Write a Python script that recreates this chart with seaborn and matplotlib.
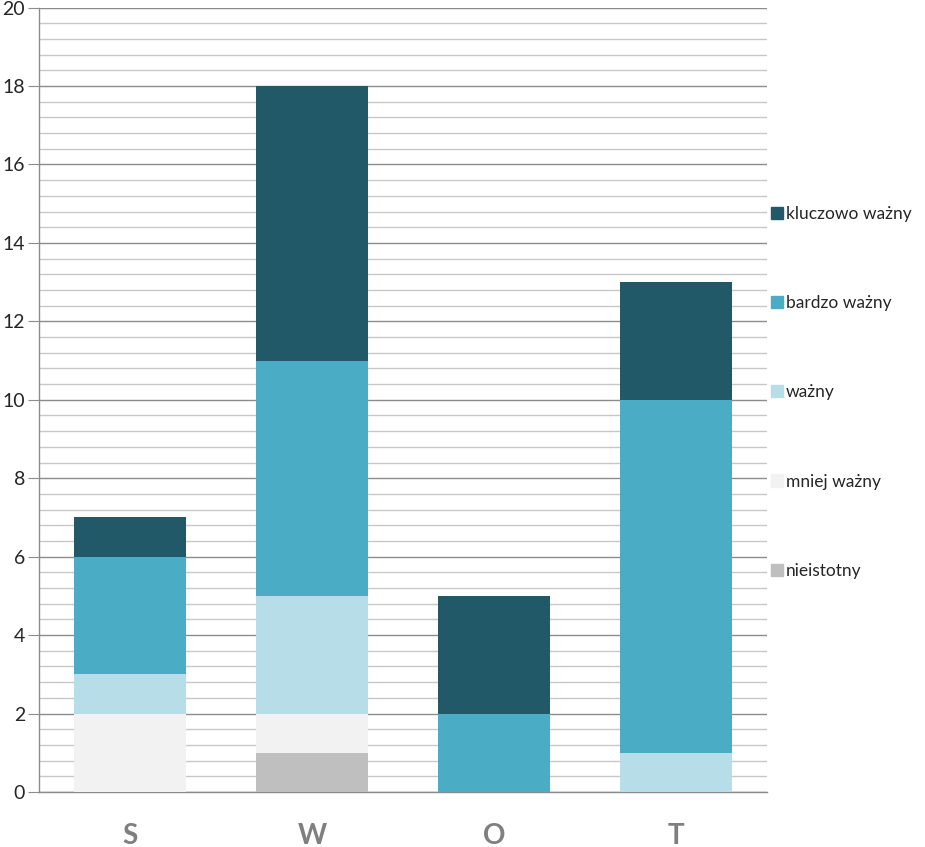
import numpy as np
import matplotlib
matplotlib.use("Agg")
import matplotlib.pyplot as plt
import seaborn as sns
from matplotlib.ticker import MultipleLocator

# categories and stacked series (bottom to top)
categories = ["S", "W", "O", "T"]
series_names = ["nieistotny", "mniej ważny", "ważny", "bardzo ważny", "kluczowo ważny"]
nieistotny = [0, 1, 0, 0]
mniej_wazny = [2, 1, 0, 0]
wazny = [1, 3, 0, 1]
bardzo_wazny = [3, 6, 2, 9]
kluczowo_wazny = [1, 7, 3, 3]
colors = ["#BFBFBF", "#F2F2F2", "#B7DEE8", "#4BACC6", "#215968"]

sns.set_style("white")
plt.rcParams["font.family"] = ["Lato", "DejaVu Sans"]

fig = plt.figure(figsize=(9.25, 8.47), dpi=100)
ax = fig.add_axes([0.0422, 0.065, 0.787, 0.926])

bottom = np.zeros(len(categories))
handles = []
for name, vals, col in zip(series_names,
                           [nieistotny, mniej_wazny, wazny, bardzo_wazny, kluczowo_wazny],
                           colors):
    sns.barplot(x=categories, y=vals, bottom=bottom, color=col, width=0.62,
                saturation=1, ax=ax, zorder=3, linewidth=0)
    handles.append(plt.Rectangle((0, 0), 1, 1, color=col, label=name))
    bottom = bottom + np.array(vals)

ax.set_ylim(0, 20)
ax.set_xlim(-0.5, 3.5)
ax.yaxis.set_major_locator(MultipleLocator(2))
ax.yaxis.set_minor_locator(MultipleLocator(0.4))
ax.grid(which="minor", axis="y", color="#C8C8C8", linewidth=1, zorder=0)
ax.grid(which="major", axis="y", color="#8C8C8C", linewidth=1, zorder=0)
ax.set_axisbelow(True)

for s in ["top", "right"]:
    ax.spines[s].set_visible(False)
for s in ["left", "bottom"]:
    ax.spines[s].set_color("#8C8C8C")
    ax.spines[s].set_linewidth(1)

ax.tick_params(axis="y", which="major", length=8, color="#8C8C8C", labelsize=14,
               labelcolor="#262626", left=True, pad=2)
ax.tick_params(axis="y", which="minor", length=0)
ax.tick_params(axis="x", length=0, labelsize=20, labelcolor="#7F7F7F", pad=22)
for lab in ax.get_xticklabels():
    lab.set_fontweight("bold")

ax.set_xlabel("")
ax.set_ylabel("")

fig.legend(handles=handles[::-1], labels=series_names[::-1],
           loc="upper left", bbox_to_anchor=(0.833, 0.757), frameon=False,
           fontsize=12.5, labelspacing=4.22, handlelength=0.7, handleheight=0.7,
           handletextpad=0.2, borderpad=0, borderaxespad=0)

fig.savefig("out.png", dpi=100)
